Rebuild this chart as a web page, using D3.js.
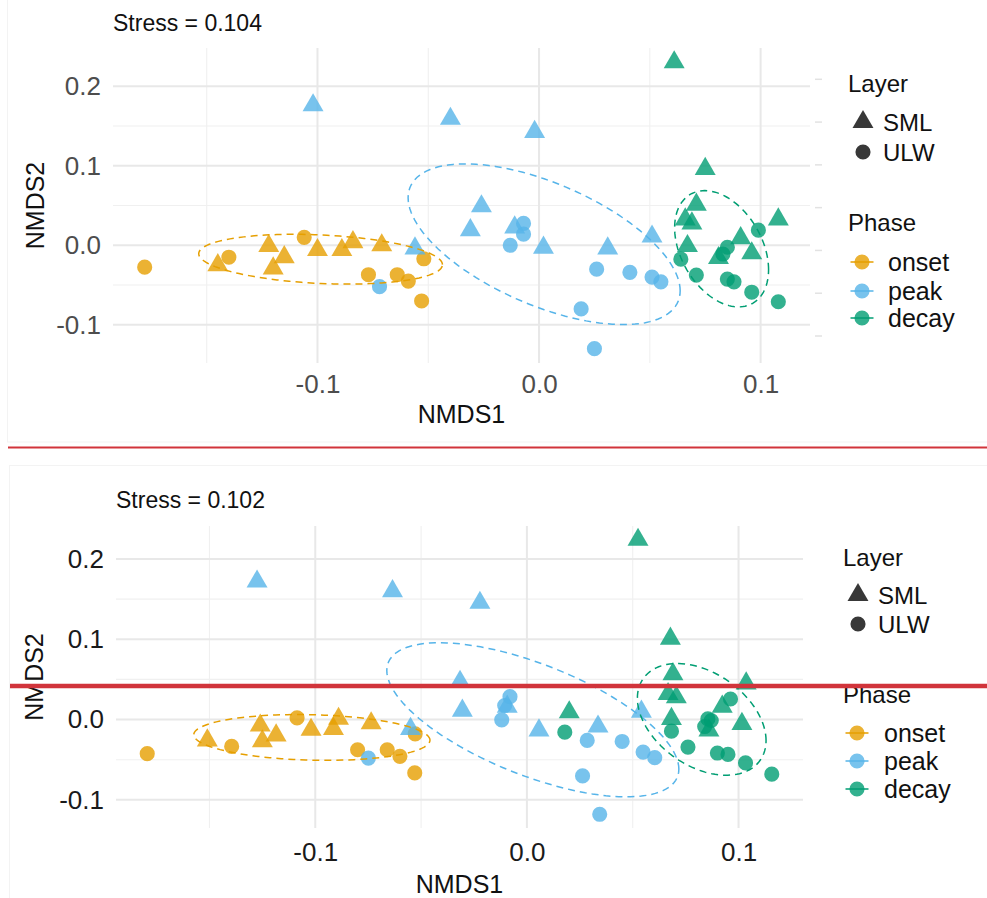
<!DOCTYPE html>
<html>
<head>
<meta charset="utf-8">
<script src="https://cdn.jsdelivr.net/npm/d3@7"></script>
<style>
  body { margin: 0; background: #fff; }
  svg { display: block; }
  text { font-family: "Liberation Sans", Arial, Helvetica, sans-serif; }
</style>
</head>
<body>
<svg id="chart" width="987" height="898"></svg>
<script>
// ---- categories ----
const phases = ["onset", "peak", "decay"];
const phaseColors = ["#E69F00", "#56B4E9", "#009E73"];
const layers = ["SML", "ULW"];

// ---- axis ticks ----
const xMajorTicks = [-0.1, 0.0, 0.1];
const xMinorTicks = [-0.15, -0.05, 0.05];
const yMajorTicks = [-0.1, 0.0, 0.1, 0.2];
const yMinorTicks = [-0.05, 0.05, 0.15];
const xTickLabels = ["-0.1", "0.0", "0.1"];
const yTickLabels = ["-0.1", "0.0", "0.1", "0.2"];

// ---- ordination scores, first run (NMDS1, NMDS2) ----
const run1OnsetSML = [[-0.145,-0.025],[-0.122,-0.001],[-0.120,-0.029],[-0.115,-0.015],[-0.100,-0.006],[-0.089,-0.006],[-0.084,0.004],[-0.071,0.000]];
const run1OnsetULW = [[-0.178,-0.0275],[-0.140,-0.015],[-0.106,0.010],[-0.077,-0.037],[-0.064,-0.037],[-0.059,-0.045],[-0.052,-0.017],[-0.053,-0.070]];
const run1PeakSML  = [[-0.102,0.176],[-0.040,0.159],[-0.002,0.1425],[-0.056,-0.004],[-0.026,0.049],[-0.031,0.019],[-0.011,0.0225],[0.002,-0.003],[0.031,-0.004],[0.051,0.011]];
const run1PeakULW  = [[-0.072,-0.052],[-0.007,0.0275],[-0.007,0.014],[-0.013,0.000],[0.026,-0.030],[0.041,-0.034],[0.051,-0.040],[0.055,-0.046],[0.019,-0.080],[0.025,-0.130]];
const run1DecaySML = [[0.061,0.230],[0.075,0.096],[0.071,0.051],[0.066,0.0325],[0.069,0.0275],[0.067,-0.001],[0.081,-0.016],[0.091,0.009],[0.096,-0.010],[0.108,0.0325]];
const run1DecayULW = [[0.064,-0.0175],[0.071,-0.0375],[0.083,-0.011],[0.085,-0.0025],[0.085,-0.0425],[0.088,-0.046],[0.096,-0.059],[0.099,0.019],[0.108,-0.071]];

// ---- ordination scores, second run ----
const run2OnsetSML = [[-0.151,-0.026],[-0.126,-0.0074],[-0.125,-0.027],[-0.1185,-0.0198],[-0.102,-0.0128],[-0.0914,-0.0116],[-0.089,0.0009],[-0.0736,-0.0046]];
const run2OnsetULW = [[-0.1794,-0.0425],[-0.1395,-0.0335],[-0.1086,0.002],[-0.080,-0.0376],[-0.066,-0.0376],[-0.060,-0.0458],[-0.0528,-0.0178],[-0.053,-0.0665]];
const run2PeakSML  = [[-0.1275,0.172],[-0.0635,0.160],[-0.0222,0.1454],[-0.055,-0.0116],[-0.0316,0.047],[-0.0305,0.011],[-0.0093,0.016],[0.0057,-0.0136],[0.0336,-0.0087],[0.0541,0.0099]];
const run2PeakULW  = [[-0.0749,-0.048],[-0.008,0.0285],[-0.0105,0.0175],[-0.0119,-0.0004],[0.0285,-0.026],[0.045,-0.0273],[0.0549,-0.0405],[0.0604,-0.0475],[0.0263,-0.0702],[0.0344,-0.118]];
const run2DecaySML = [[0.0525,0.224],[0.0678,0.1008],[0.069,0.0566],[0.0667,0.0318],[0.0706,0.0277],[0.0683,0.0008],[0.020,0.009],[0.086,-0.0136],[0.0923,0.0161],[0.1036,0.045],[0.1016,-0.0054]];
const run2DecayULW = [[0.0683,-0.0145],[0.0761,-0.0343],[0.0179,-0.0157],[0.0855,0.0008],[0.0871,-0.0012],[0.084,-0.0087],[0.0962,0.0256],[0.090,-0.0417],[0.095,-0.0434],[0.1033,-0.054],[0.1157,-0.068]];

// ---- group ellipses: centre, spread along each axis, correlation ----
const run1Ellipses = [
  { phase: "onset", cx: -0.0986, cy: -0.0175, sx: 0.0550, sy: 0.0313, r: -0.22 },
  { phase: "peak",  cx:  0.0023, cy:  0.0013, sx: 0.0614, sy: 0.1010, r: -0.58 },
  { phase: "decay", cx:  0.0824, cy: -0.0044, sx: 0.0212, sy: 0.0731, r: -0.36 }
];
const run2Ellipses = [
  { phase: "onset", cx: -0.1016, cy: -0.0223, sx: 0.0558, sy: 0.0285, r: -0.12 },
  { phase: "peak",  cx:  0.0028, cy: -0.0003, sx: 0.0690, sy: 0.0960, r: -0.64 },
  { phase: "decay", cx:  0.0826, cy:  0.0002, sx: 0.0304, sy: 0.0696, r: -0.38 }
];

const stressValues = [0.104, 0.102];

// ---- build the long table for each run ----
function buildRows(sets) {
  const rows = [];
  sets.forEach(s => s.pts.forEach(p => rows.push({ x: p[0], y: p[1], phase: s.phase, layer: s.layer })));
  return rows;
}
const run1Rows = buildRows([
  { phase: "onset", layer: "SML", pts: run1OnsetSML }, { phase: "onset", layer: "ULW", pts: run1OnsetULW },
  { phase: "peak",  layer: "SML", pts: run1PeakSML  }, { phase: "peak",  layer: "ULW", pts: run1PeakULW  },
  { phase: "decay", layer: "SML", pts: run1DecaySML }, { phase: "decay", layer: "ULW", pts: run1DecayULW }
]);
const run2Rows = buildRows([
  { phase: "onset", layer: "SML", pts: run2OnsetSML }, { phase: "onset", layer: "ULW", pts: run2OnsetULW },
  { phase: "peak",  layer: "SML", pts: run2PeakSML  }, { phase: "peak",  layer: "ULW", pts: run2PeakULW  },
  { phase: "decay", layer: "SML", pts: run2DecaySML }, { phase: "decay", layer: "ULW", pts: run2DecayULW }
]);

const color = d3.scaleOrdinal().domain(phases).range(phaseColors);
const shape = d3.scaleOrdinal().domain(layers).range([d3.symbolTriangle, d3.symbolCircle]);
const symbolSize = { SML: 190, ULW: 180 };

const svg = d3.select("#chart");

// panel frames
svg.append("rect").attr("x", 7.5).attr("y", -1).attr("width", 990).attr("height", 443)
  .attr("fill", "none").attr("stroke", "#f3f3f3").attr("stroke-width", 1);
svg.append("rect").attr("x", 9.5).attr("y", 465.5).attr("width", 990).attr("height", 440)
  .attr("fill", "none").attr("stroke", "#f3f3f3").attr("stroke-width", 1);

function expanded(vals) {
  const [lo, hi] = d3.extent(vals);
  const pad = (hi - lo) * 0.05;
  return [lo - pad, hi + pad];
}

function drawPanel(cfg) {
  const g = svg.append("g");
  const x = d3.scaleLinear().domain(expanded(cfg.rows.map(d => d.x))).range([cfg.left, cfg.right]);
  const y = d3.scaleLinear().domain(expanded(cfg.rows.map(d => d.y))).range([cfg.bottom, cfg.top]);

  // grid
  const grid = g.append("g");
  grid.selectAll(".xmin").data(xMinorTicks.filter(v => v >= x.domain()[0] && v <= x.domain()[1])).join("line")
    .attr("x1", d => x(d)).attr("x2", d => x(d)).attr("y1", cfg.top).attr("y2", cfg.bottom)
    .attr("stroke", "#f0f0f0").attr("stroke-width", 1.1);
  grid.selectAll(".ymin").data(yMinorTicks.filter(v => v >= y.domain()[0] && v <= y.domain()[1])).join("line")
    .attr("y1", d => y(d)).attr("y2", d => y(d)).attr("x1", cfg.left).attr("x2", cfg.right)
    .attr("stroke", "#f0f0f0").attr("stroke-width", 1.1);
  grid.selectAll(".xmaj").data(xMajorTicks).join("line")
    .attr("x1", d => x(d)).attr("x2", d => x(d)).attr("y1", cfg.top).attr("y2", cfg.bottom)
    .attr("stroke", "#e8e8e8").attr("stroke-width", 2);
  grid.selectAll(".ymaj").data(yMajorTicks).join("line")
    .attr("y1", d => y(d)).attr("y2", d => y(d)).attr("x1", cfg.left).attr("x2", cfg.right)
    .attr("stroke", "#e8e8e8").attr("stroke-width", 2);

  // axes (labels only, minimal theme)
  const xAxis = g.append("g").attr("transform", `translate(0,${cfg.bottom})`)
    .call(d3.axisBottom(x).tickValues(xMajorTicks).tickFormat((d, i) => xTickLabels[i]).tickSize(0).tickPadding(cfg.xPad));
  const yAxis = g.append("g").attr("transform", `translate(${cfg.left},0)`)
    .call(d3.axisLeft(y).tickValues(yMajorTicks).tickFormat((d, i) => yTickLabels[i]).tickSize(0).tickPadding(cfg.yPad));
  [xAxis, yAxis].forEach(a => {
    a.select(".domain").remove();
    a.selectAll("text").attr("font-size", 26).attr("fill", cfg.tickColor)
      .attr("font-family", '"Liberation Sans", Arial, sans-serif');
  });

  // points
  g.append("g").selectAll("path").data(cfg.rows).join("path")
    .attr("transform", d => `translate(${x(d.x)},${y(d.y)})`)
    .attr("d", d => d3.symbol().type(shape(d.layer)).size(symbolSize[d.layer])())
    .attr("fill", d => color(d.phase)).attr("fill-opacity", 0.8);

  // dashed group ellipses
  const line = d3.line().x(p => x(p[0])).y(p => y(p[1]));
  const ts = d3.range(0, 361, 3).map(a => a * Math.PI / 180);
  g.append("g").selectAll("path").data(cfg.ellipses).join("path")
    .attr("d", e => line(ts.map(t => [
      e.cx + e.sx * Math.cos(t),
      e.cy + e.sy * (e.r * Math.cos(t) + Math.sqrt(1 - e.r * e.r) * Math.sin(t))
    ])) + "Z")
    .attr("fill", "none").attr("stroke", e => color(e.phase))
    .attr("stroke-width", 1.5).attr("stroke-dasharray", "7 5");

  // stress annotation
  g.append("text").attr("x", cfg.left).attr("y", cfg.stressY).attr("font-size", 23).attr("fill", "#111")
    .text(`Stress = ${cfg.stress.toFixed(3)}`);

  // axis titles
  g.append("text").attr("x", (cfg.left + cfg.right) / 2).attr("y", cfg.xTitleY)
    .attr("text-anchor", "middle").attr("font-size", 25).attr("fill", "#111").text("NMDS1");
  g.append("text").attr("transform", `translate(${cfg.yTitleX},${(cfg.top + cfg.bottom) / 2}) rotate(-90)`)
    .attr("text-anchor", "middle").attr("font-size", 25).attr("fill", "#111").text("NMDS2");

  // legend: Layer
  const L = cfg.legend;
  const lg = g.append("g");
  lg.append("text").attr("x", L.titleX).attr("y", L.layerTitleY).attr("font-size", 24).attr("fill", "#111").text("Layer");
  layers.forEach((lay, i) => {
    lg.append("path").attr("transform", `translate(${L.shapeX},${L.layerY[i]})`)
      .attr("d", d3.symbol().type(shape(lay)).size(symbolSize[lay])())
      .attr("fill", "#000").attr("fill-opacity", 0.78);
    lg.append("text").attr("x", L.layerLabelX).attr("y", L.layerY[i]).attr("dy", "0.36em")
      .attr("font-size", 24).attr("fill", "#111").text(lay);
  });
  // legend: Phase
  lg.append("text").attr("x", L.titleX).attr("y", L.phaseTitleY).attr("font-size", 24).attr("fill", "#111").text("Phase");
  phases.forEach((ph, i) => {
    lg.append("line").attr("x1", L.keyX - 11.5).attr("x2", L.keyX + 11.5)
      .attr("y1", L.phaseY[i]).attr("y2", L.phaseY[i])
      .attr("stroke", color(ph)).attr("stroke-width", 1.5);
    lg.append("path").attr("transform", `translate(${L.keyX},${L.phaseY[i]})`)
      .attr("d", d3.symbol().type(d3.symbolCircle).size(symbolSize.ULW)())
      .attr("fill", color(ph)).attr("fill-opacity", 0.8);
    lg.append("text").attr("x", L.phaseLabelX).attr("y", L.phaseY[i]).attr("dy", "0.36em")
      .attr("font-size", 25).attr("fill", "#111").text(ph);
  });
  return { x, y };
}

drawPanel({
  rows: run1Rows, ellipses: run1Ellipses, stress: stressValues[0],
  left: 113, right: 810, top: 48, bottom: 363,
  xPad: 12, yPad: 12, tickColor: "#4d4d4d",
  stressY: 31, xTitleY: 423, yTitleX: 44,
  legend: { titleX: 848, layerTitleY: 92, shapeX: 863, layerLabelX: 883, layerY: [122, 152],
            phaseTitleY: 231, keyX: 862, phaseLabelX: 888, phaseY: [262, 291, 318] }
});

// faint ticks beside the first legend
const faintTicks = d3.scaleLinear().domain([0, 6]).range([79.3, 336]);
svg.append("g").selectAll("line").data(d3.range(7)).join("line")
  .attr("x1", 815).attr("x2", 822).attr("y1", d => faintTicks(d)).attr("y2", d => faintTicks(d))
  .attr("stroke", "#e2e2e2").attr("stroke-width", 1.5);

drawPanel({
  rows: run2Rows, ellipses: run2Ellipses, stress: stressValues[1],
  left: 116, right: 803, top: 526, bottom: 828,
  xPad: 15, yPad: 12, tickColor: "#1a1a1a",
  stressY: 508, xTitleY: 893, yTitleX: 43,
  legend: { titleX: 843, layerTitleY: 566, shapeX: 858, layerLabelX: 878, layerY: [595, 624],
            phaseTitleY: 703, keyX: 857, phaseLabelX: 884, phaseY: [733, 761, 789] }
});

// red separator lines
svg.append("line").attr("x1", 8).attr("x2", 987).attr("y1", 447.5).attr("y2", 447.5)
  .attr("stroke", "#d1343b").attr("stroke-width", 2.2);
svg.append("line").attr("x1", 10).attr("x2", 987).attr("y1", 686).attr("y2", 686)
  .attr("stroke", "#d1343b").attr("stroke-width", 4.5);
</script>
</body>
</html>
